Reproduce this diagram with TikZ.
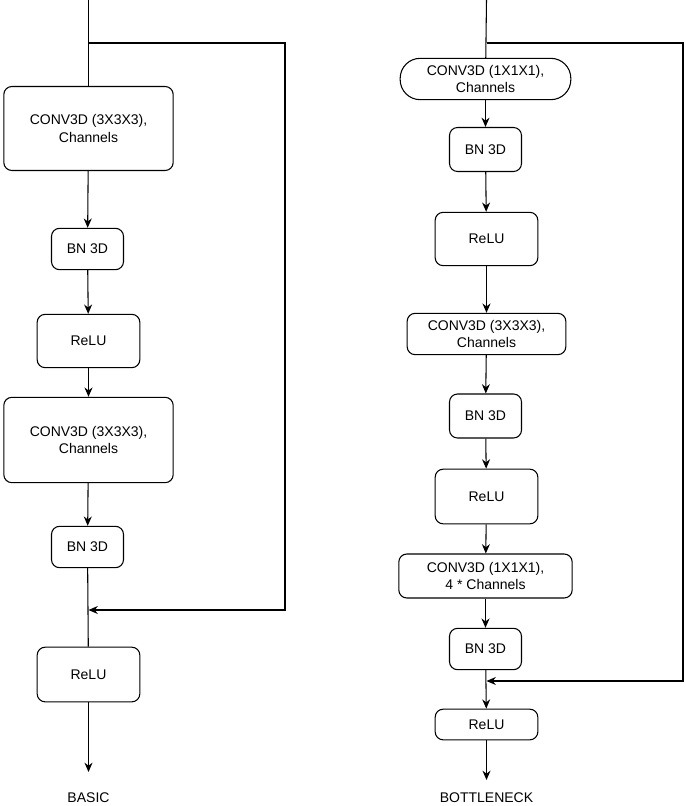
\documentclass[tikz,border=0pt]{standalone}
\usepackage{fontspec}
\setmainfont{Liberation Sans}
\usetikzlibrary{arrows.meta}
\begin{document}
\begin{tikzpicture}[x=0.75pt,y=-0.75pt,
 box/.style={draw,rounded corners=6pt,align=center,font=\fontsize{10.5}{13}\selectfont,inner sep=0pt,line width=0.8pt},
 pill/.style={draw,rounded corners=15pt,align=center,font=\fontsize{10.5}{13}\selectfont,inner sep=0pt,line width=0.8pt},
 ar/.style={-{Stealth[length=7pt,width=6pt]},line width=0.8pt},
 ln/.style={line width=0.8pt},
 lab/.style={font=\fontsize{10.5}{13}\selectfont}]
\useasboundingbox (0,0) rectangle (685,806);
\newcommand{\bx}[6]{\node[#6,minimum width=#4*0.75pt-0.8pt,minimum height=#5*0.75pt-0.8pt] (#1) at (#2,#3) {#1x};}
% left
\node[box,minimum width=127pt,minimum height=63pt] (l1) at (88.5,128.5) {CONV3D (3X3X3),\\Channels};
\node[box,minimum width=54pt,minimum height=31pt] (l2) at (87.5,249) {BN 3D};
\node[box,minimum width=77pt,minimum height=40pt] (l3) at (88.5,341) {ReLU};
\node[box,minimum width=127pt,minimum height=64pt] (l4) at (88.5,440) {CONV3D (3X3X3),\\Channels};
\node[box,minimum width=54pt,minimum height=31pt] (l5) at (87.5,547) {BN 3D};
\node[box,minimum width=77pt,minimum height=41pt] (l6) at (88.5,674.5) {ReLU};
\coordinate (lt) at (88.5,0);
\coordinate (lb) at (88.5,43);
\coordinate (lm) at (88.5,610);
\coordinate (le) at (88.5,772);
\node[lab] (lbl) at (88.5,798) {BASIC};
\draw[ln] (lt) -- (l1);
\draw[ar] (l1) -- (l2);
\draw[ar] (l2) -- (l3);
\draw[ar] (l3) -- (l4);
\draw[ar] (l4) -- (l5);
\draw[ln] (l5) -- (l6);
\draw[ar] (l6) -- (le);
\draw[ar] (lb) -| (285,610) -- (lm);
% right
\node[pill,minimum width=128pt,minimum height=31pt] (r1) at (485.5,79) {CONV3D (1X1X1),\\Channels};
\node[box,minimum width=54pt,minimum height=33pt] (r2) at (485.5,149.5) {BN 3D};
\node[box,minimum width=77pt,minimum height=40pt] (r3) at (486.5,239) {ReLU};
\node[box,minimum width=119pt,minimum height=31pt] (r4) at (486.5,334) {CONV3D (3X3X3),\\Channels};
\node[box,minimum width=54pt,minimum height=33pt] (r5) at (485.5,416) {BN 3D};
\node[box,minimum width=77pt,minimum height=41pt] (r6) at (486.5,496.5) {ReLU};
\node[box,minimum width=130pt,minimum height=33pt] (r7) at (485.5,576) {CONV3D (1X1X1),\\4 * Channels};
\node[box,minimum width=54pt,minimum height=31pt] (r8) at (485.5,649) {BN 3D};
\node[box,minimum width=77pt,minimum height=23pt] (r9) at (486.5,724.5) {ReLU};
\coordinate (rt) at (486.5,0);
\coordinate (rb) at (486.5,43);
\coordinate (rm) at (486.5,681);
\coordinate (re) at (486.5,780);
\node[lab] (rlbl) at (486.5,798) {BOTTLENECK};
\draw[ln] (rt) -- (r1);
\draw[ar] (r1) -- (r2);
\draw[ar] (r2) -- (r3);
\draw[ar] (r3) -- (r4);
\draw[ar] (r4) -- (r5);
\draw[ar] (r5) -- (r6);
\draw[ar] (r6) -- (r7);
\draw[ar] (r7) -- (r8);
\draw[ar] (r8) -- (r9);
\draw[ar] (r9) -- (re);
\draw[ar] (rb) -| (683,681) -- (rm);
\end{tikzpicture}
\end{document}
